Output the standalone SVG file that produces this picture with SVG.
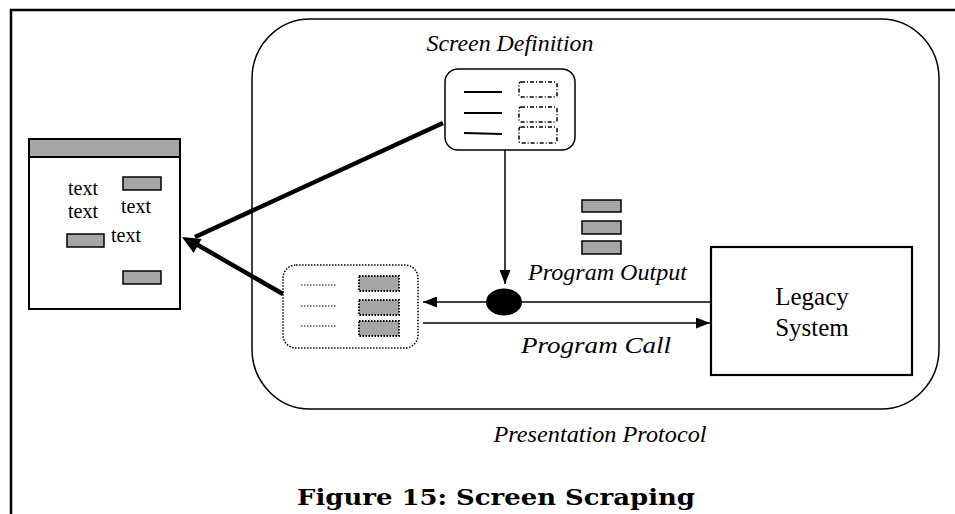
<svg xmlns="http://www.w3.org/2000/svg" width="955" height="514" viewBox="0 0 955 514">
<style>
.it{font-family:"Liberation Serif","Times New Roman",serif;font-style:italic;font-size:24px;fill:#000}
.rm{font-family:"Liberation Serif","Times New Roman",serif;font-size:20px;fill:#000}
.big{font-family:"Liberation Serif","Times New Roman",serif;font-size:25px;fill:#000}
.cap{font-family:"DejaVu Serif","Liberation Serif",serif;font-weight:bold;font-size:23px;fill:#000}
.gray{fill:#a6a6a6;stroke:#000;stroke-width:1.5}
.thin{stroke:#000;stroke-width:1.5;fill:none}
.thick{stroke:#000;stroke-width:4.5;fill:none}
</style>
<defs>
<marker id="ah" viewBox="0 0 14 11" refX="14" refY="5.5" markerWidth="14" markerHeight="11" markerUnits="userSpaceOnUse" orient="auto">
<path d="M0,0 L14,5.5 L0,11 z" fill="#000"/>
</marker>
</defs>
<rect width="955" height="514" fill="#fff"/>
<!-- frame -->
<path d="M11,514 V10 H955" fill="none" stroke="#000" stroke-width="2.5"/>
<!-- presentation protocol container -->
<g id="container">
<rect x="252" y="19" width="687" height="390" rx="58" ry="60" class="thin"/>
<text class="it" x="600" y="442" text-anchor="middle" textLength="213" lengthAdjust="spacingAndGlyphs">Presentation Protocol</text>
</g>
<!-- screen window -->
<g id="screen">
<rect x="29" y="139" width="151" height="170" fill="#fff" stroke="#000" stroke-width="2"/>
<rect x="29" y="139" width="151" height="18" fill="#a6a6a6" stroke="#000" stroke-width="2"/>
<text class="rm" x="68" y="195">text</text>
<text class="rm" x="68" y="218">text</text>
<text class="rm" x="121" y="213">text</text>
<text class="rm" x="111" y="242">text</text>
<rect x="123" y="177" width="38" height="13" class="gray"/>
<rect x="67" y="234" width="37" height="13" class="gray"/>
<rect x="123" y="271" width="38" height="13" class="gray"/>
</g>
<!-- screen definition -->
<g id="screen-definition">
<text class="it" x="510" y="51" text-anchor="middle" textLength="167" lengthAdjust="spacingAndGlyphs">Screen Definition</text>
<rect x="445" y="69" width="130" height="81" rx="13" ry="13" class="thin"/>
<path d="M464,92 H502 M464,113 H502 M464,133 L502,134" stroke="#000" stroke-width="1.8" fill="none"/>
<g fill="none" stroke="#000" stroke-width="1.5" stroke-dasharray="4,2,1,2">
<rect x="519" y="82" width="38" height="15" rx="2"/>
<rect x="519" y="107" width="38" height="15" rx="2"/>
<rect x="519" y="127" width="38" height="16" rx="2"/>
</g>
</g>
<!-- scraped data -->
<g id="scraped">
<rect x="283" y="265" width="135" height="83" rx="13" ry="13" fill="none" stroke="#000" stroke-width="1.5" stroke-dasharray="1.5,1.5"/>
<path d="M301,285 H337 M301,306 H337 M301,326 H337" stroke="#000" stroke-width="1" stroke-dasharray="1.5,1.5" fill="none"/>
<g fill="#a6a6a6" stroke="#000" stroke-width="1.8" stroke-dasharray="1.5,1.5">
<rect x="359" y="276" width="40" height="15"/>
<rect x="359" y="300" width="40" height="15"/>
<rect x="359" y="321" width="40" height="15"/>
</g>
</g>
<!-- program output stack -->
<g id="program-output">
<rect x="582" y="200" width="39" height="12" class="gray"/>
<rect x="582" y="221" width="39" height="13" class="gray"/>
<rect x="582" y="241" width="39" height="13" class="gray"/>
<text class="it" x="528" y="280" textLength="159" lengthAdjust="spacingAndGlyphs">Program Output</text>
</g>
<!-- legacy system -->
<g id="legacy">
<rect x="711" y="247" width="201" height="128" fill="#fff" stroke="#000" stroke-width="2.2"/>
<text class="big" x="812" y="305" text-anchor="middle">Legacy</text>
<text class="big" x="812" y="336" text-anchor="middle">System</text>
</g>
<!-- merge point -->
<g id="merge">
<ellipse cx="504" cy="302" rx="18" ry="13.5" fill="#000"/>
</g>
<g id="program-call-label">
<text class="it" x="521" y="353" textLength="150" lengthAdjust="spacingAndGlyphs">Program Call</text>
</g>
<!-- connectors -->
<g id="connectors">
<line x1="505" y1="150" x2="505" y2="284" class="thin" marker-end="url(#ah)"/>
<line x1="711" y1="302" x2="520" y2="302" class="thin"/>
<line x1="488" y1="302" x2="423" y2="302" class="thin" marker-end="url(#ah)"/>
<line x1="423" y1="323" x2="710" y2="323" class="thin" marker-end="url(#ah)"/>
<line x1="443" y1="123" x2="195" y2="237" class="thick"/>
<line x1="283" y1="294" x2="196" y2="244" class="thick"/>
<polygon points="182,237 193.6,252.9 201.6,239.1" fill="#000"/>
</g>
<text class="cap" x="297" y="505" textLength="398" lengthAdjust="spacingAndGlyphs">Figure 15: Screen Scraping</text>
</svg>
